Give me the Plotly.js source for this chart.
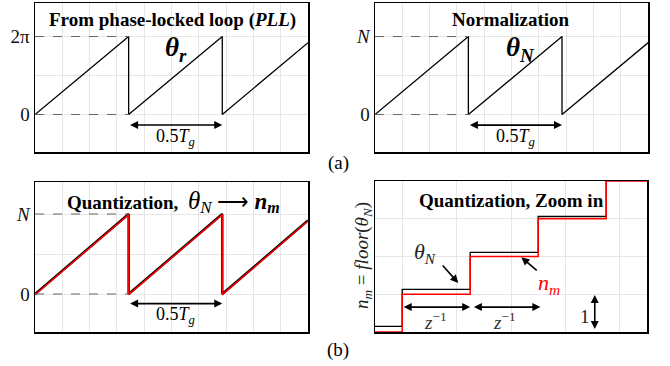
<!DOCTYPE html>
<html>
<head>
<meta charset="utf-8">
<script src="https://cdn.plot.ly/plotly-3.0.1.min.js"></script>
<style>
  html, body { margin: 0; padding: 0; background: #fff; }
  #chart { width: 670px; height: 366px; }
</style>
</head>
<body>
<div id="chart"></div>
<script>
// ---- data ----
// (a) phase from the PLL: sawtooth in radians, time in grid divisions
const tPll = [0, 3.43, 3.43, 6.86, 6.86, 10];
const thetaR = [0, 6.28, 0, 6.28, 0, 5.78];

// (a) normalized phase, in units of N
const tNorm = [0, 3.42, 3.42, 6.85, 6.85, 10];
const thetaN = [0, 1, 0, 1, 0, 0.92];

// (b) quantization: theta_N and n_m = floor(theta_N), in units of N
const tQuant = [0, 3.43, 3.43, 6.86, 6.86, 10];
const thetaNq = [0, 1, 0, 1, 0, 0.92];
const nmQuant = [-0.008, 0.992, -0.008, 0.992, -0.008, 0.912];

// (b) zoomed staircase: sample steps (z^-1) and levels in LSB
const tZoom = [0, 0.5, 0.5, 1.75, 1.75, 3.0, 3.0, 4.25, 4.25, 5];
const thetaNZoom = [0.15, 0.15, 1.13, 1.13, 2.11, 2.11, 3.06, 3.06, 4.05, 4.05];
const nmZoom = [0, 0, 1, 1, 2, 2, 3, 3, 4, 4];

// tick labels
const yTickPll = ['0', '', '2π'];
const yTickN = ['0', '', '<i>N</i>'];

// ---- styling ----
const SERIF = 'Liberation Serif, Times New Roman, serif';
const GRID = '#e6e6e6';

function xAxis(domain, range, tick0, dtick, anchor) {
  return {
    domain: domain, range: range, anchor: anchor,
    tick0: tick0, dtick: dtick,
    showgrid: true, gridcolor: GRID, gridwidth: 1,
    showticklabels: false, ticks: '', zeroline: false,
    showline: true, mirror: true, linecolor: '#000', linewidth: 1.5,
    fixedrange: true
  };
}
function yAxis(domain, range, tickvals, ticktext, anchor) {
  return {
    domain: domain, range: range, anchor: anchor,
    tickmode: 'array', tickvals: tickvals, ticktext: ticktext,
    showgrid: true, gridcolor: GRID, gridwidth: 1,
    showticklabels: ticktext !== null, ticks: '', zeroline: false,
    tickfont: { family: SERIF, size: 19, color: '#111' },
    showline: true, mirror: true, linecolor: '#000', linewidth: 1.5,
    fixedrange: true
  };
}

const W = 670, H = 366;
const px = v => v / W;
const py = v => 1 - v / H;

const traces = [
  { x: tPll, y: thetaR, xaxis: 'x', yaxis: 'y', mode: 'lines',
    line: { color: '#000', width: 1.3 }, hoverinfo: 'skip' },
  { x: tNorm, y: thetaN, xaxis: 'x2', yaxis: 'y2', mode: 'lines',
    line: { color: '#000', width: 1.3 }, hoverinfo: 'skip' },
  { x: tQuant, y: thetaNq, xaxis: 'x3', yaxis: 'y3', mode: 'lines',
    line: { color: '#000', width: 2.4 }, hoverinfo: 'skip' },
  { x: tQuant, y: nmQuant, xaxis: 'x3', yaxis: 'y3', mode: 'lines',
    line: { color: '#ff0000', width: 1.5 }, hoverinfo: 'skip' },
  { x: tZoom, y: thetaNZoom, xaxis: 'x4', yaxis: 'y4', mode: 'lines',
    line: { color: '#000', width: 1.3 }, hoverinfo: 'skip' },
  { x: tZoom, y: nmZoom, xaxis: 'x4', yaxis: 'y4', mode: 'lines',
    line: { color: '#ff0000', width: 1.5 }, hoverinfo: 'skip' }
];

// dashed guides from the axis to the first peak / restart of each sawtooth
function guides(xr, yr, tArr, yArr) {
  const d = { color: '#666', width: 1, dash: 'dash' };
  return [
    { type: 'line', xref: xr, yref: yr, x0: tArr[0], x1: tArr[1], y0: yArr[1], y1: yArr[1], line: d },
    { type: 'line', xref: xr, yref: yr, x0: tArr[0], x1: tArr[2], y0: yArr[2], y1: yArr[2], line: d }
  ];
}
const shapes = [].concat(
  guides('x', 'y', tPll, thetaR),
  guides('x2', 'y2', tNorm, thetaN),
  guides('x3', 'y3', tQuant, thetaNq)
);

function dblArrow(xr, yr, x0, x1, y0, y1) {
  return {
    xref: xr, yref: yr, x: x1, y: y1, ax: x0, ay: y0, axref: xr, ayref: yr,
    text: '', showarrow: true, arrowside: 'end+start', arrowhead: 2,
    arrowsize: 1, arrowwidth: 1.6, arrowcolor: '#000'
  };
}
function label(xr, yr, x, y, text, size, color, extra) {
  return Object.assign({
    xref: xr, yref: yr, x: x, y: y, text: text, showarrow: false,
    xanchor: 'center', yanchor: 'middle',
    font: { family: SERIF, size: size, color: color || '#000' }
  }, extra || {});
}

const tg = '0.5<i>T</i><sub><i>g</i></sub>';
const quantTitle =
  '<b>Quantization,  </b>' +
  '<span style="font-size:25px"><i>θ</i></span>' +
  '<sub><span style="font-size:17px"><i>N</i></span></sub>' +
  '<span style="font-size:22px"> ⟶ </span>' +
  '<span style="font-size:23px"><b><i>n</i></b></span>' +
  '<sub><span style="font-size:16px"><b><i>m</i></b></span></sub>';

const annotations = [
  // (a) left
  label('paper', 'paper', px(172), py(20), '<b>From phase-locked loop (</b><b><i>PLL</i></b><b>)</b>', 19),
  label('paper', 'paper', px(176), py(49), '<b><i>θ</i></b><sub><b><i>r</i></b></sub>', 27),
  dblArrow('x', 'y', tPll[2], tPll[4], -0.85, -0.85),
  label('x', 'y', (tPll[2] + tPll[4]) / 2, -1.85, tg, 18),
  // (a) right
  label('paper', 'paper', px(511), py(20), '<b>Normalization</b>', 19),
  label('paper', 'paper', px(520), py(49), '<b><i>θ</i></b><sub><b><i>N</i></b></sub>', 27),
  dblArrow('x2', 'y2', tNorm[2], tNorm[4], -0.135, -0.135),
  label('x2', 'y2', (tNorm[2] + tNorm[4]) / 2, -0.29, tg, 18),
  // (b) left
  label('paper', 'paper', px(173), py(202), quantTitle, 19),
  dblArrow('x3', 'y3', tQuant[2], tQuant[4], -0.12, -0.12),
  label('x3', 'y3', (tQuant[2] + tQuant[4]) / 2, -0.27, tg, 18),
  // (b) right
  label('paper', 'paper', px(511), py(200), '<b>Quantization, Zoom in</b>', 19),
  label('paper', 'paper', px(363), py(256), '<i>n</i><sub><i>m</i></sub> = <i>floor</i>(<i>θ</i><sub><i>N</i></sub>)', 19, '#222',
    { textangle: -90 }),
  dblArrow('x4', 'y4', tZoom[1], tZoom[3], 0.66, 0.66),
  dblArrow('x4', 'y4', tZoom[3] + 0.04, tZoom[5] + 0.04, 0.66, 0.66),
  label('x4', 'y4', 1.12, 0.28, '<i>z</i><sup>−1</sup>', 19, '#333'),
  label('x4', 'y4', 2.38, 0.28, '<i>z</i><sup>−1</sup>', 19, '#333'),
  label('x4', 'y4', 0.92, 2.1, '<i>θ</i><sub><i>N</i></sub>', 22, '#222'),
  { xref: 'x4', yref: 'y4', x: 1.53, y: 1.3, ax: 1.22, ay: 1.8, axref: 'x4', ayref: 'y4',
    text: '', showarrow: true, arrowhead: 2, arrowsize: 1, arrowwidth: 1.6, arrowcolor: '#000' },
  label('x4', 'y4', 3.2, 1.27, '<i>n</i><sub><i>m</i></sub>', 22, '#ff0000'),
  { xref: 'x4', yref: 'y4', x: 2.69, y: 1.98, ax: 3.0, ay: 1.6, axref: 'x4', ayref: 'y4',
    text: '', showarrow: true, arrowhead: 2, arrowsize: 1, arrowwidth: 1.6, arrowcolor: '#000' },
  label('x4', 'y4', 3.86, 0.42, '1', 19, '#222'),
  dblArrow('x4', 'y4', 4.04, 4.04, 0.04, 0.98),
  // sub-figure tags
  label('paper', 'paper', px(338), py(163), '(a)', 19),
  label('paper', 'paper', px(338), py(350), '(b)', 19)
];

const layout = {
  width: W, height: H,
  margin: { l: 0, r: 0, t: 0, b: 0 },
  paper_bgcolor: '#fff', plot_bgcolor: '#fff',
  showlegend: false,
  font: { family: SERIF, color: '#000' },
  xaxis:  xAxis([px(35), px(308)], [0, 10], 0, 1, 'y'),
  yaxis:  yAxis([py(152), py(3)], [-3.02, 8.98], [0, 3.14, 6.28], yTickPll, 'x'),
  xaxis2: xAxis([px(375), px(648)], [0, 10], 0, 1, 'y2'),
  yaxis2: yAxis([py(152), py(3)], [-0.48, 1.43], [0, 0.5, 1], yTickN, 'x2'),
  xaxis3: xAxis([px(35), px(308)], [0, 10], 0, 1, 'y3'),
  yaxis3: yAxis([py(332), py(182)], [-0.475, 1.4], [0, 0.5, 1], yTickN, 'x3'),
  xaxis4: xAxis([px(375), px(647)], [0, 5], 0.5, 1, 'y4'),
  yaxis4: yAxis([py(332), py(181)], [0, 4], [1, 2, 3], null, 'x4'),
  shapes: shapes,
  annotations: annotations
};

Plotly.newPlot('chart', traces, layout, { staticPlot: true, displayModeBar: false });
</script>
</body>
</html>
